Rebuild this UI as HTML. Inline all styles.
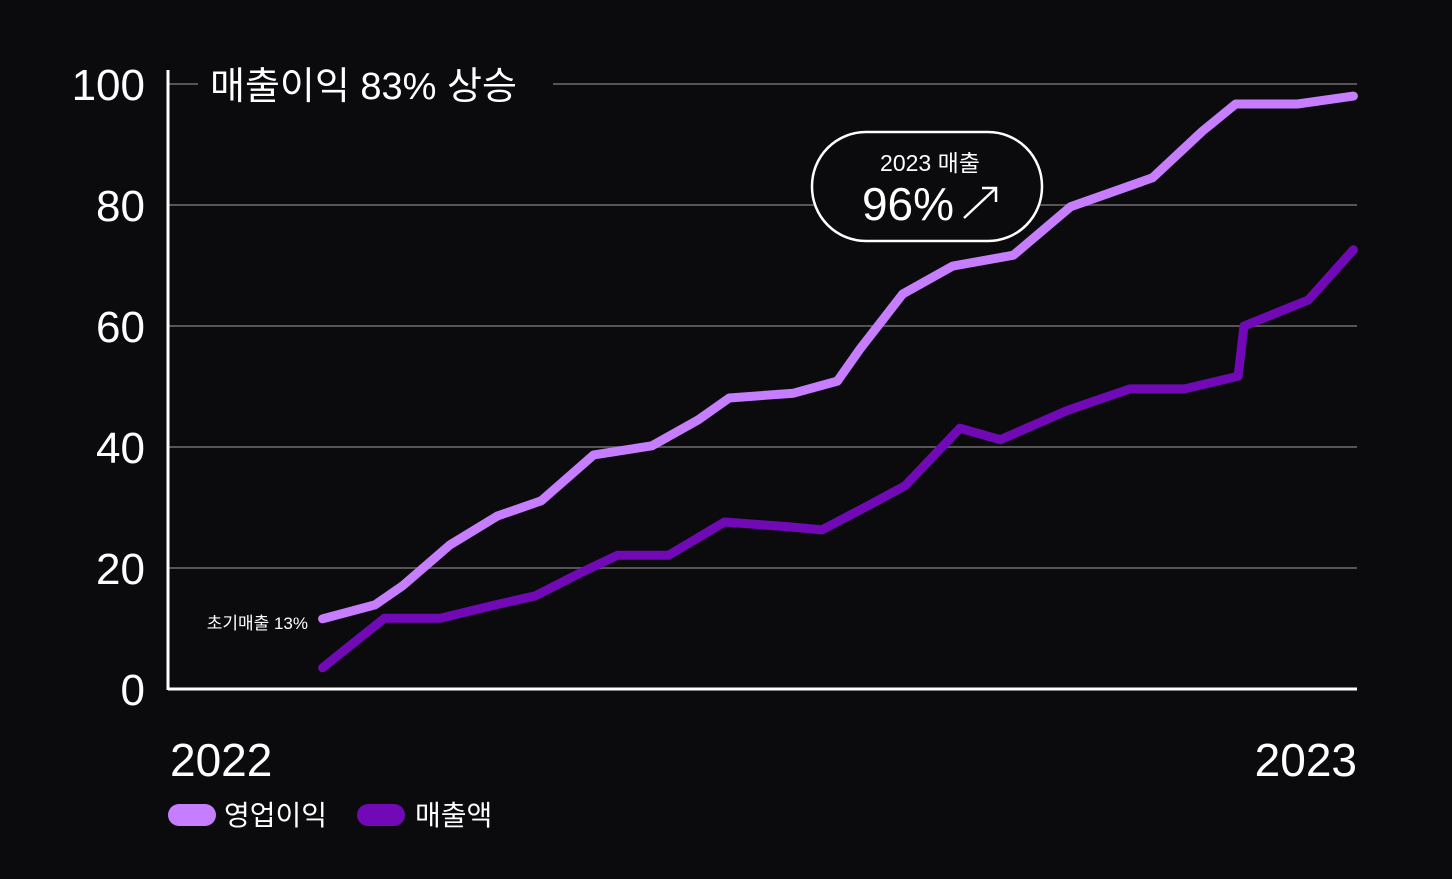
<!DOCTYPE html>
<html><head><meta charset="utf-8">
<style>
html,body{margin:0;padding:0;background:#0b0b0e;}
body{width:1452px;height:874px;overflow:hidden;font-family:"Liberation Sans","Noto Sans CJK KR",sans-serif;}
</style></head>
<body>
<svg id="chart" width="1452" height="874" xmlns="http://www.w3.org/2000/svg" style="font-family:'Liberation Sans','Noto Sans CJK KR',sans-serif">
<rect width="1452" height="874" fill="#0b0b0e"/>
<g id="grid"></g>
<g id="ylabels"></g>
<line x1="168" y1="70" x2="168" y2="690" stroke="#fff" stroke-width="3"/>
<line x1="168" y1="689" x2="1357" y2="689" stroke="#fff" stroke-width="3"/>
<rect x="198" y="62" width="355" height="50" fill="#0b0b0e"/>
<text x="210" y="99" font-size="38" fill="#fff">매출이익 83% 상승</text>
<g id="series"></g>
<text x="308" y="629" font-size="17" fill="#fff" text-anchor="end">초기매출 13%</text>
<rect x="812" y="132" width="230" height="109" rx="54" fill="#0b0b0e" stroke="#fff" stroke-width="2.5"/>
<text x="930" y="171" font-size="23" fill="#fff" text-anchor="middle">2023 매출</text>
<text x="908" y="220" font-size="46" fill="#fff" text-anchor="middle">96%</text>
<g stroke="#fff" stroke-width="2.5" fill="none">
<line x1="964" y1="218" x2="996" y2="188"/><polyline points="982,188 996,188 996,202"/></g>
<text x="170" y="776" font-size="46" fill="#fff">2022</text>
<text x="1357" y="776" font-size="46" fill="#fff" text-anchor="end">2023</text>
<rect x="168" y="804" width="48" height="22" rx="11" fill="#c77dff"/>
<text x="224" y="825" font-size="28" fill="#fff">영업이익</text>
<rect x="357" y="804" width="48" height="22" rx="11" fill="#7209b7"/>
<text x="415" y="825" font-size="28" fill="#fff">매출액</text>
</svg>
<script>
const yTicks = [0, 20, 40, 60, 80, 100];
const profitT = [0.130,0.174,0.197,0.237,0.277,0.314,0.358,0.407,0.446,0.472,0.526,0.563,0.582,0.618,0.660,0.711,0.759,0.828,0.870,0.898,0.950,0.997];
const profitV = [11.6,13.9,17.0,23.8,28.6,31.1,38.7,40.2,44.5,48.1,48.9,50.9,56.2,65.3,69.9,71.7,79.7,84.5,92.2,96.7,96.7,98.0];
const revenueT = [0.130,0.182,0.229,0.271,0.309,0.347,0.378,0.421,0.468,0.523,0.550,0.584,0.620,0.666,0.700,0.757,0.809,0.855,0.900,0.905,0.959,0.997];
const revenueV = [3.5,11.7,11.7,13.7,15.4,19.2,22.1,22.1,27.6,26.8,26.3,29.8,33.6,43.1,41.2,46.1,49.6,49.6,51.7,60.0,64.3,72.6];

const NS = "http://www.w3.org/2000/svg";
const X0 = 168, X1 = 1357, Y0 = 689, Y100 = 84;
function xs(t){ return X0 + t * (X1 - X0); }
function ys(v){ return Y0 - v / 100 * (Y0 - Y100); }

const grid = document.getElementById('grid');
const yl = document.getElementById('ylabels');
yTicks.forEach(v => {
  if (v > 0) {
    const l = document.createElementNS(NS, 'line');
    l.setAttribute('x1', 168); l.setAttribute('x2', 1357);
    l.setAttribute('y1', ys(v)); l.setAttribute('y2', ys(v));
    l.setAttribute('stroke', '#555'); l.setAttribute('stroke-width', '2');
    
    
    grid.appendChild(l);
  }
  const t = document.createElementNS(NS, 'text');
  t.setAttribute('x', 145); t.setAttribute('y', ys(v) + 16);
  t.setAttribute('text-anchor', 'end'); t.setAttribute('font-size', '44');
  t.setAttribute('fill', '#fff');
  t.textContent = v;
  
  
  yl.appendChild(t);
});

const series = document.getElementById('series');
function drawLine(T, V, color, name){
  const p = document.createElementNS(NS, 'polyline');
  p.setAttribute('points', T.map((t, i) => xs(t).toFixed(1) + ',' + ys(V[i]).toFixed(1)).join(' '));
  p.setAttribute('fill', 'none'); p.setAttribute('stroke', color);
  p.setAttribute('stroke-width', '9'); p.setAttribute('stroke-linecap', 'round');
  p.setAttribute('stroke-linejoin', 'round');
  
  
  series.appendChild(p);
}
drawLine(revenueT, revenueV, '#7209b7', 'revenue-line');
drawLine(profitT, profitV, '#c77dff', 'operating-profit-line');
</script>
</body></html>
